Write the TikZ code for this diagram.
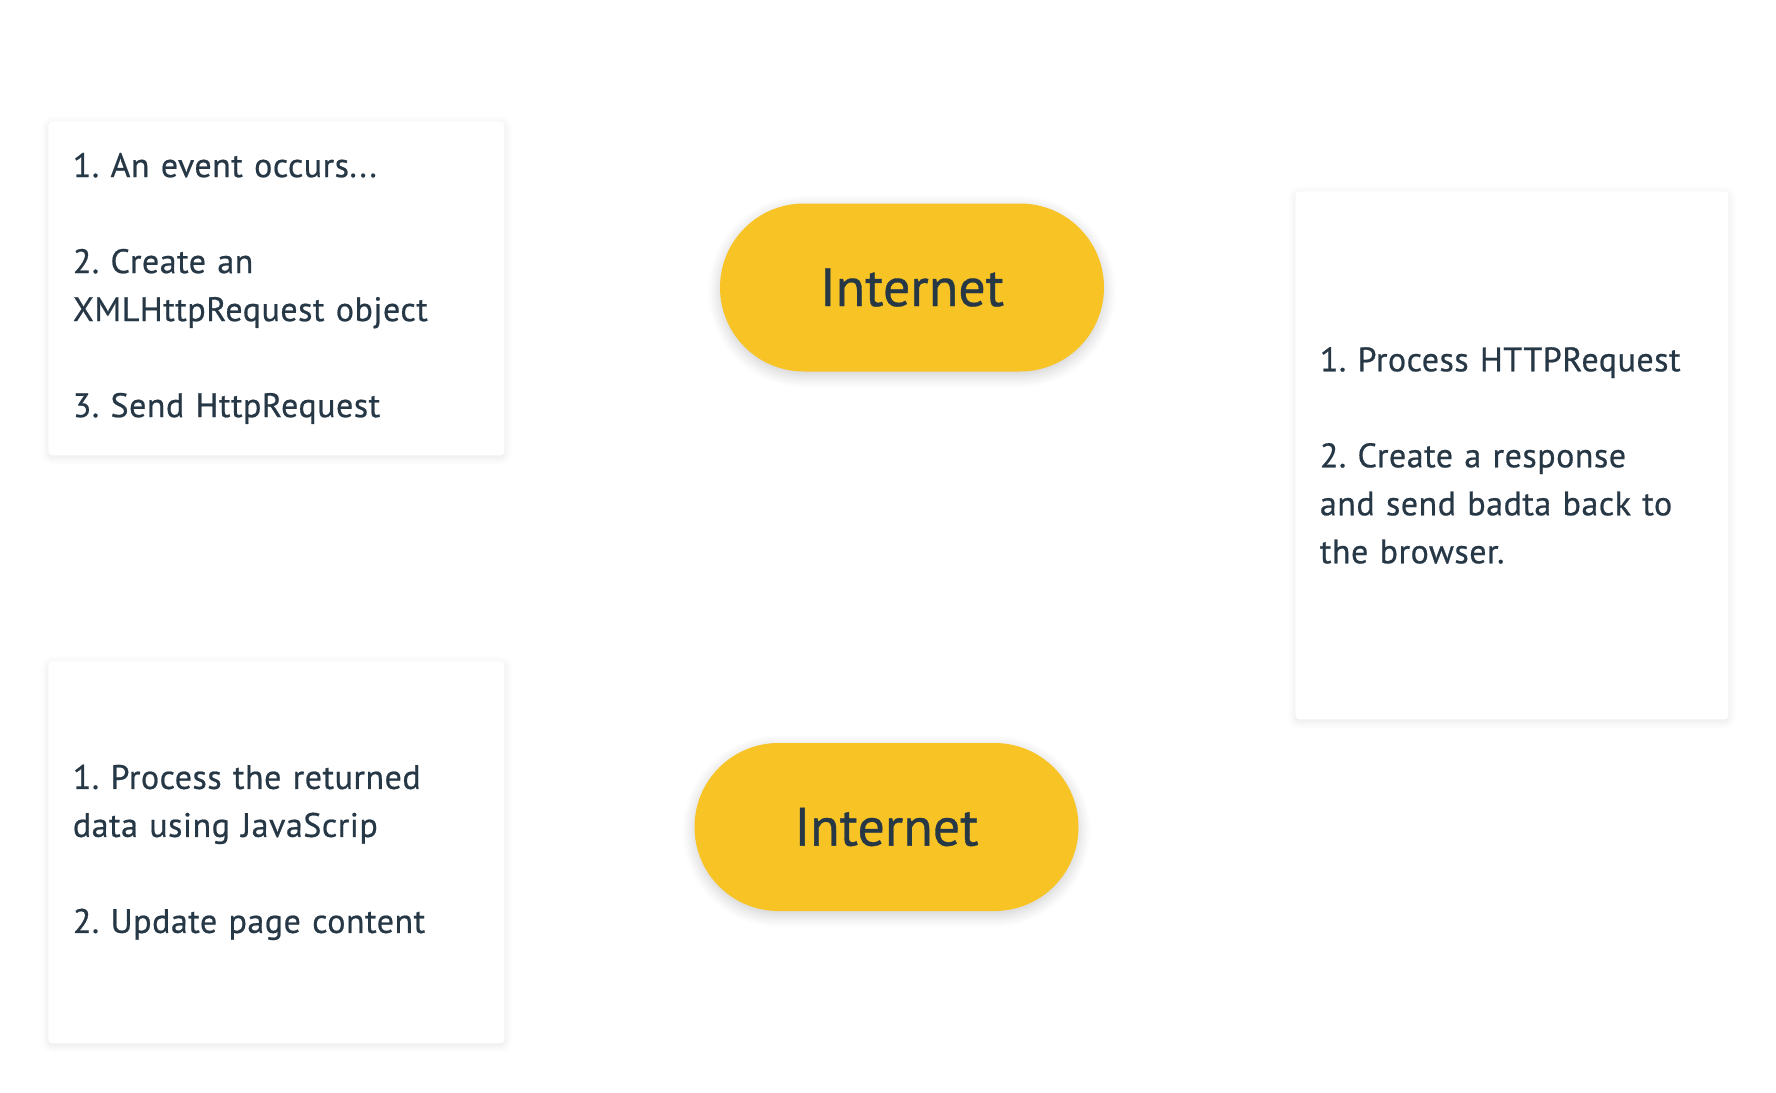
\documentclass[tikz,border=0pt]{standalone}
\usepackage{fontspec}
\setmainfont{PT Sans}[FakeBold=0.6, LetterSpace=1.5]
\newfontfamily\pillfont{PT Sans}[FakeBold=0.6]
\usetikzlibrary{shadows.blur}
\definecolor{txt}{HTML}{263746}
\definecolor{pill}{HTML}{F7C325}
\tikzset{
  card/.style={draw=none, fill=white, rounded corners=2pt, anchor=north west,
    inner xsep=12.25pt, inner ysep=0pt, align=left, text=txt,
    font=\fontsize{17}{24}\selectfont,
    blur shadow={shadow xshift=0pt, shadow yshift=-1pt, shadow blur steps=6, shadow blur radius=4pt, shadow opacity=10}},
  netpill/.style={draw=none, fill=pill, rounded corners=42pt, text=txt,
    minimum width=192pt, minimum height=84pt,
    font=\pillfont\fontsize{27}{30}\selectfont,
    blur shadow={shadow xshift=0pt, shadow yshift=-2pt, shadow blur steps=8, shadow blur radius=6pt, shadow opacity=20}}
}
\begin{document}
\frenchspacing
\begin{tikzpicture}[x=0.5pt,y=-0.5pt]
\useasboundingbox (0,0) rectangle (1776,1092);
\node[card, text width=203.5pt, minimum height=167pt] (req) at (48,121)
 {1. An event occurs...\\[24pt]2. Create an\\XMLHttpRequest object\\[24pt]3. Send HttpRequest};
\node[card, text width=192pt, minimum height=264pt] (srv) at (1295,191)
 {1. Process HTTPRequest\\[24pt]2. Create a response\\and send badta back to\\the browser.};
\node[card, text width=203.5pt, minimum height=191pt] (resp) at (48,661)
 {1. Process the returned\\data using JavaScrip\\[24pt]2. Update page content};
\node[netpill] (net1) at (912,287.5) {Internet};
\node[netpill] (net2) at (886.5,827) {Internet};
\end{tikzpicture}
\end{document}
